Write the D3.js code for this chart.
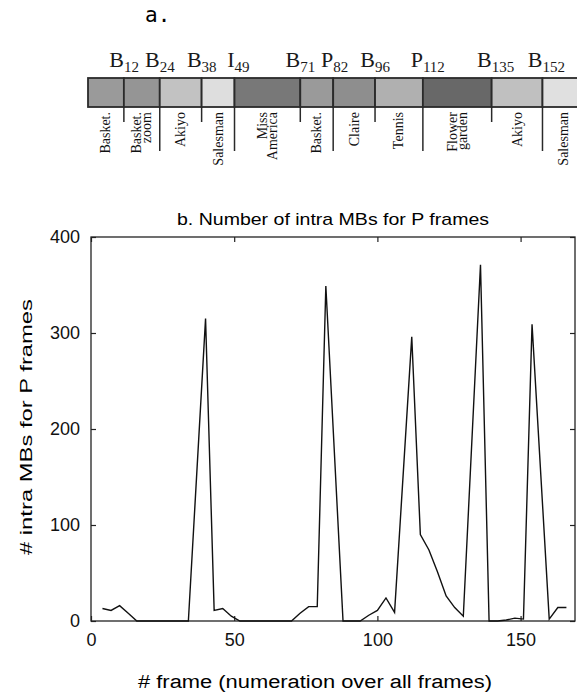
<!DOCTYPE html>
<html>
<head>
<meta charset="utf-8">
<script src="https://cdn.jsdelivr.net/npm/d3@7"></script>
<style>
  body { margin: 0; background: #fff; }
  svg { display: block; }
</style>
</head>
<body>
<div id="vis"></div>
<script>
const FRAME_WIDTH = 577;
const FRAME_HEIGHT = 692;

// panel a: scene strip
const SCENE_BOUNDS = [0, 12, 24, 38, 49, 71, 82, 96, 112, 135, 152, 166];
const SCENE_NAMES = [["Basket."], ["Basket.", "zoom"], ["Akiyo"], ["Salesman"], ["Miss", "America"],
                     ["Basket."], ["Claire"], ["Tennis"], ["Flower", "garden"], ["Akiyo"], ["Salesman"]];
const SCENE_GRAYS = ["#9a9a9a", "#959595", "#c2c2c2", "#dedede", "#787878",
                     "#9a9a9a", "#8e8e8e", "#b0b0b0", "#686868", "#c0c0c0", "#e0e0e0"];
const CUT_TYPES = ["B", "B", "B", "I", "B", "P", "B", "P", "B", "B"];
const CUT_FRAMES = [12, 24, 38, 49, 71, 82, 96, 112, 135, 152];

// panel b: intra MBs per P frame
const P_FRAMES = [4, 7, 10, 13, 16, 19, 22, 25, 28, 31, 34,
                  40, 43, 46, 49, 52, 55, 58, 61, 64, 67, 70, 73, 76, 79, 82,
                  88, 91, 94, 97, 100, 103, 106,
                  112, 115, 118, 121, 124, 127, 130,
                  136, 139, 142, 145, 148, 151,
                  154, 160, 163, 166];
const INTRA_MBS = [13, 11, 16, 8, 0, 0, 0, 0, 0, 0, 0,
                   315, 11, 13, 5, 0, 0, 0, 0, 0, 0, 0, 8, 15, 15, 349,
                   0, 0, 0, 6, 11, 24, 9,
                   296, 90, 74, 51, 26, 14, 5,
                   371, 0, 0, 1, 3, 2,
                   309, 2, 14, 14];
const X_TICKS = [0, 50, 100, 150];
const Y_TICKS = [0, 100, 200, 300, 400];

const svg = d3.select("#vis")
              .append("svg")
              .attr("width", FRAME_WIDTH)
              .attr("height", FRAME_HEIGHT);

// ---------- panel a ----------
svg.append("text")
   .attr("x", 145)
   .attr("y", 22)
   .attr("font-family", "'DejaVu Sans Mono', monospace")
   .attr("font-size", 21)
   .text("a.");

const STRIP_X = d3.scaleLinear().domain([0, 166]).range([88, 88 + 166 * 2.99]);
const STRIP_TOP = 78;
const STRIP_BOTTOM = 107;
const SERIF = "'Liberation Serif', 'Times New Roman', serif";

const scenes = SCENE_NAMES.map((name, i) => ({
  name: name, start: SCENE_BOUNDS[i], end: SCENE_BOUNDS[i + 1], gray: SCENE_GRAYS[i]
}));

svg.selectAll(".scene")
   .data(scenes)
   .enter()
   .append("rect")
     .attr("class", "scene")
     .attr("x", (d) => STRIP_X(d.start))
     .attr("y", STRIP_TOP)
     .attr("width", (d) => STRIP_X(d.end) - STRIP_X(d.start))
     .attr("height", STRIP_BOTTOM - STRIP_TOP)
     .attr("fill", (d) => d.gray)
     .attr("stroke", "#2a2a2a")
     .attr("stroke-width", 1.8);

// cut markers below the strip, alternating short / long
svg.selectAll(".cut")
   .data(CUT_FRAMES)
   .enter()
   .append("line")
     .attr("x1", (d) => STRIP_X(d))
     .attr("x2", (d) => STRIP_X(d))
     .attr("y1", STRIP_BOTTOM)
     .attr("y2", (d, i) => i % 2 == 0 ? 122 : 151)
     .attr("stroke", "#2a2a2a")
     .attr("stroke-width", 1.5);

// cut labels above the strip: letter ends at the cut, frame number starts there
svg.selectAll(".cuttype")
   .data(CUT_FRAMES)
   .enter()
   .append("text")
     .attr("x", (d) => STRIP_X(d))
     .attr("y", 67)
     .attr("text-anchor", "end")
     .attr("font-family", SERIF)
     .attr("font-size", 22)
     .attr("fill", "#1a1a1a")
     .text((d, i) => CUT_TYPES[i]);
svg.selectAll(".cutnum")
   .data(CUT_FRAMES)
   .enter()
   .append("text")
     .attr("x", (d) => STRIP_X(d))
     .attr("y", 72)
     .attr("font-family", SERIF)
     .attr("font-size", 15)
     .attr("fill", "#1a1a1a")
     .text((d) => d);

// scene names, rotated
const names = svg.selectAll(".scenename")
   .data(scenes)
   .enter()
   .append("text")
     .attr("transform", (d) => "translate(" + ((STRIP_X(d.start) + STRIP_X(d.end)) / 2) + ",112) rotate(-90)")
     .attr("text-anchor", "end")
     .attr("font-family", SERIF)
     .attr("font-size", 14)
     .attr("fill", "#111");
names.selectAll("tspan")
   .data((d) => d.name.map((t, j) => ({t: t, j: j, n: d.name.length})))
   .enter()
   .append("tspan")
     .attr("x", 0)
     .attr("y", (d) => (d.j - (d.n - 1) / 2) * 10 + 4.5)
     .text((d) => d.t);

// ---------- panel b ----------
const MARGINS = {left: 91, right: 2, top: 237, bottom: 71};
const X_SCALE = d3.scaleLinear().domain([0, 169]).range([MARGINS.left, FRAME_WIDTH - MARGINS.right]);
const Y_SCALE = d3.scaleLinear().domain([0, 400]).range([FRAME_HEIGHT - MARGINS.bottom, MARGINS.top]);

const FONT = "'Liberation Sans', Arial, Helvetica, sans-serif";

svg.append("text")
   .attr("x", 333)
   .attr("y", 225)
   .attr("text-anchor", "middle")
   .attr("font-family", FONT)
   .attr("font-size", 17)
   .attr("textLength", 312)
   .attr("lengthAdjust", "spacingAndGlyphs")
   .text("b. Number of intra MBs for P frames");

const bottomAxis = svg.append("g")
   .attr("transform", "translate(0," + Y_SCALE(0) + ")")
   .call(d3.axisBottom(X_SCALE).tickValues(X_TICKS).tickSize(-5).tickPadding(12));
const leftAxis = svg.append("g")
   .attr("transform", "translate(" + X_SCALE(0) + ",0)")
   .call(d3.axisLeft(Y_SCALE).tickValues(Y_TICKS).tickSize(-5).tickPadding(11));
const topAxis = svg.append("g")
   .attr("transform", "translate(0," + Y_SCALE(400) + ")")
   .call(d3.axisTop(X_SCALE).tickValues(X_TICKS).tickSize(-5).tickFormat(""));
const rightAxis = svg.append("g")
   .attr("transform", "translate(" + X_SCALE(169) + ",0)")
   .call(d3.axisRight(Y_SCALE).tickValues(Y_TICKS).tickSize(-5).tickFormat(""));

[bottomAxis, leftAxis, topAxis, rightAxis].forEach((g) => {
  g.select(".domain").remove();
  g.selectAll(".tick line").attr("stroke", "#222").attr("stroke-width", 1.2);
  g.selectAll(".tick text")
   .attr("font-family", FONT)
   .attr("font-size", 18)
   .attr("fill", "#111");
});

svg.append("rect")
   .attr("x", X_SCALE(0))
   .attr("y", Y_SCALE(400))
   .attr("width", X_SCALE(169) - X_SCALE(0))
   .attr("height", Y_SCALE(0) - Y_SCALE(400))
   .attr("fill", "none")
   .attr("stroke", "#222")
   .attr("stroke-width", 1.3);

const points = P_FRAMES.map((f, i) => [f, INTRA_MBS[i]]);

svg.append("path")
   .datum(points)
   .attr("fill", "none")
   .attr("stroke", "#111")
   .attr("stroke-width", 1.4)
   .attr("stroke-linejoin", "miter")
   .attr("d", d3.line().x((d) => X_SCALE(d[0])).y((d) => Y_SCALE(d[1])));

svg.append("text")
   .attr("x", 315)
   .attr("y", 688)
   .attr("text-anchor", "middle")
   .attr("font-family", FONT)
   .attr("font-size", 18)
   .attr("textLength", 354)
   .attr("lengthAdjust", "spacingAndGlyphs")
   .text("# frame (numeration over all frames)");

svg.append("text")
   .attr("transform", "translate(32,427) rotate(-90)")
   .attr("text-anchor", "middle")
   .attr("font-family", FONT)
   .attr("font-size", 17)
   .attr("textLength", 256)
   .attr("lengthAdjust", "spacingAndGlyphs")
   .text("# intra MBs for P frames");
</script>
</body>
</html>
